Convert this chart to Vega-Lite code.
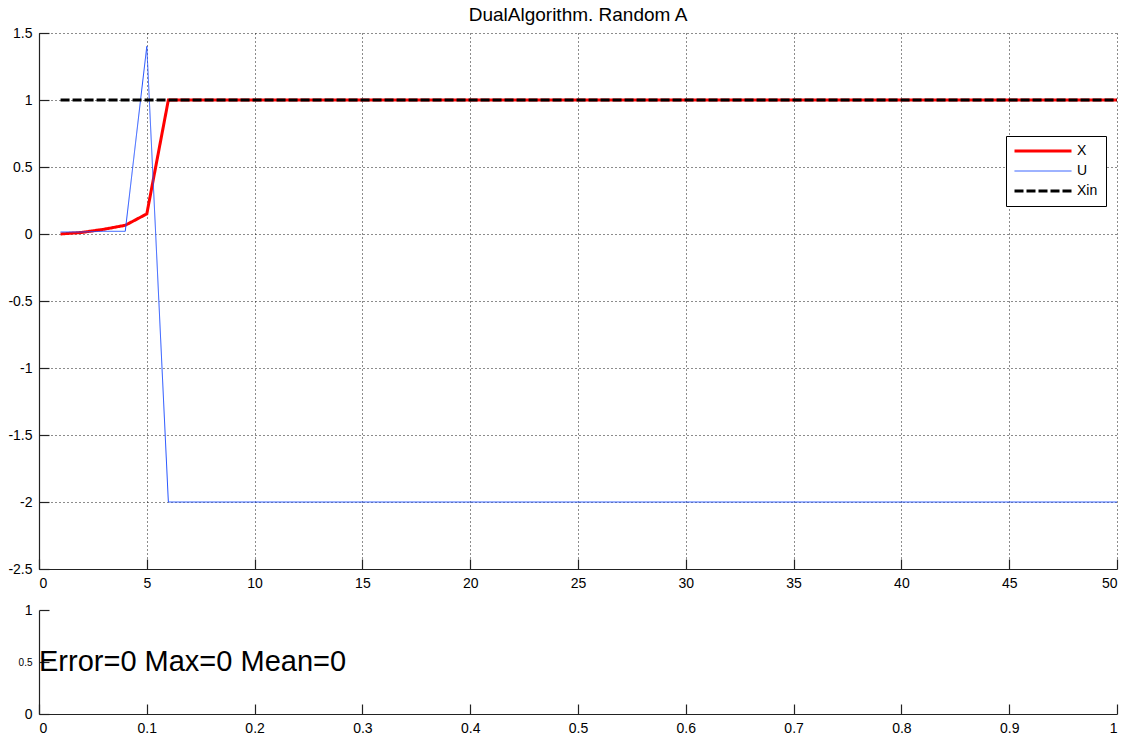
{
  "$schema": "https://vega.github.io/schema/vega-lite/v6.json",
  "background": "white",
  "padding": {"left": 5, "top": 6, "right": 4, "bottom": 2},
  "spacing": 12,
  "config": {
    "font": "Liberation Sans",
    "view": {"stroke": null},
    "axis": {
      "labelFont": "Liberation Sans",
      "labelFontSize": 14,
      "labelColor": "#000000",
      "domainColor": "#222222",
      "domainWidth": 1.2,
      "tickColor": "#222222",
      "tickWidth": 1.2,
      "tickSize": -10,
      "title": null,
      "gridColor": "#000000",
      "gridDash": [1, 3],
      "gridOpacity": 0.9,
      "gridWidth": 1
    },
    "axisX": {"labelPadding": 17, "minExtent": 22, "maxExtent": 22},
    "axisY": {"labelPadding": 17, "minExtent": 34, "maxExtent": 34}
  },
  "vconcat": [
    {
      "width": 1078,
      "height": 536,
      "title": {"text": "DualAlgorithm. Random A", "font": "Liberation Sans", "fontSize": 19, "fontWeight": "normal", "color": "#000000", "offset": 1},
      "data": {
        "values": [
          {"t": 1, "X": 0, "U": 0.015, "Xin": 1},
          {"t": 2, "X": 0.012, "U": 0.015, "Xin": 1},
          {"t": 3, "X": 0.035, "U": 0.02, "Xin": 1},
          {"t": 4, "X": 0.065, "U": 0.02, "Xin": 1},
          {"t": 5, "X": 0.15, "U": 1.4, "Xin": 1},
          {"t": 6, "X": 1, "U": -2, "Xin": 1},
          {"t": 7, "X": 1, "U": -2, "Xin": 1},
          {"t": 8, "X": 1, "U": -2, "Xin": 1},
          {"t": 9, "X": 1, "U": -2, "Xin": 1},
          {"t": 10, "X": 1, "U": -2, "Xin": 1},
          {"t": 11, "X": 1, "U": -2, "Xin": 1},
          {"t": 12, "X": 1, "U": -2, "Xin": 1},
          {"t": 13, "X": 1, "U": -2, "Xin": 1},
          {"t": 14, "X": 1, "U": -2, "Xin": 1},
          {"t": 15, "X": 1, "U": -2, "Xin": 1},
          {"t": 16, "X": 1, "U": -2, "Xin": 1},
          {"t": 17, "X": 1, "U": -2, "Xin": 1},
          {"t": 18, "X": 1, "U": -2, "Xin": 1},
          {"t": 19, "X": 1, "U": -2, "Xin": 1},
          {"t": 20, "X": 1, "U": -2, "Xin": 1},
          {"t": 21, "X": 1, "U": -2, "Xin": 1},
          {"t": 22, "X": 1, "U": -2, "Xin": 1},
          {"t": 23, "X": 1, "U": -2, "Xin": 1},
          {"t": 24, "X": 1, "U": -2, "Xin": 1},
          {"t": 25, "X": 1, "U": -2, "Xin": 1},
          {"t": 26, "X": 1, "U": -2, "Xin": 1},
          {"t": 27, "X": 1, "U": -2, "Xin": 1},
          {"t": 28, "X": 1, "U": -2, "Xin": 1},
          {"t": 29, "X": 1, "U": -2, "Xin": 1},
          {"t": 30, "X": 1, "U": -2, "Xin": 1},
          {"t": 31, "X": 1, "U": -2, "Xin": 1},
          {"t": 32, "X": 1, "U": -2, "Xin": 1},
          {"t": 33, "X": 1, "U": -2, "Xin": 1},
          {"t": 34, "X": 1, "U": -2, "Xin": 1},
          {"t": 35, "X": 1, "U": -2, "Xin": 1},
          {"t": 36, "X": 1, "U": -2, "Xin": 1},
          {"t": 37, "X": 1, "U": -2, "Xin": 1},
          {"t": 38, "X": 1, "U": -2, "Xin": 1},
          {"t": 39, "X": 1, "U": -2, "Xin": 1},
          {"t": 40, "X": 1, "U": -2, "Xin": 1},
          {"t": 41, "X": 1, "U": -2, "Xin": 1},
          {"t": 42, "X": 1, "U": -2, "Xin": 1},
          {"t": 43, "X": 1, "U": -2, "Xin": 1},
          {"t": 44, "X": 1, "U": -2, "Xin": 1},
          {"t": 45, "X": 1, "U": -2, "Xin": 1},
          {"t": 46, "X": 1, "U": -2, "Xin": 1},
          {"t": 47, "X": 1, "U": -2, "Xin": 1},
          {"t": 48, "X": 1, "U": -2, "Xin": 1},
          {"t": 49, "X": 1, "U": -2, "Xin": 1},
          {"t": 50, "X": 1, "U": -2, "Xin": 1}
        ]
      },
      "transform": [{"fold": ["X", "U", "Xin"], "as": ["series", "value"]}],
      "encoding": {
        "x": {
          "field": "t", "type": "quantitative",
          "scale": {"domain": [0, 50], "nice": false, "zero": false},
          "axis": {"values": [0, 5, 10, 15, 20, 25, 30, 35, 40, 45, 50], "grid": true, "labelExpr": "toString(datum.value)"}
        },
        "y": {
          "field": "value", "type": "quantitative",
          "scale": {"domain": [-2.5, 1.5], "nice": false, "zero": false},
          "axis": {"values": [-2.5, -2, -1.5, -1, -0.5, 0, 0.5, 1, 1.5], "grid": true, "labelExpr": "toString(datum.value)"}
        },
        "color": {
          "field": "series", "type": "nominal",
          "scale": {"domain": ["X", "U", "Xin"], "range": ["#ff0000", "#2050ff", "#000000"]},
          "legend": {
            "title": null, "orient": "none", "legendX": 967, "legendY": 103,
            "strokeColor": "#000000", "fillColor": "#ffffff", "padding": 8,
            "symbolType": "stroke", "symbolSize": 3249, "symbolOffset": 22,
            "labelFont": "Liberation Sans", "labelFontSize": 14, "labelColor": "#000000", "labelOffset": 27,
            "labelExpr": "datum.label + '    '",
            "rowPadding": 6,
            "encode": {"symbols": {"update": {"strokeWidth": {"signal": "datum.value === 'U' ? 1 : 3"}}}}
          }
        },
        "strokeDash": {
          "field": "series", "type": "nominal",
          "scale": {"domain": ["X", "U", "Xin"], "range": [[1, 0], [1, 0], [9, 3]]},
          "legend": {
            "title": null, "orient": "none", "legendX": 967, "legendY": 103,
            "strokeColor": "#000000", "fillColor": "#ffffff", "padding": 8,
            "symbolType": "stroke", "symbolSize": 3249, "symbolOffset": 22,
            "labelFont": "Liberation Sans", "labelFontSize": 14, "labelColor": "#000000", "labelOffset": 27,
            "labelExpr": "datum.label + '    '",
            "rowPadding": 6,
            "encode": {"symbols": {"update": {"strokeWidth": {"signal": "datum.value === 'U' ? 1 : 3"}}}}
          }
        }
      },
      "layer": [
        {"transform": [{"filter": "datum.series === 'X'"}], "mark": {"type": "line", "strokeWidth": 3}},
        {"transform": [{"filter": "datum.series === 'U'"}], "mark": {"type": "line", "strokeWidth": 1}},
        {"transform": [{"filter": "datum.series === 'Xin'"}], "mark": {"type": "line", "strokeWidth": 3}}
      ]
    },
    {
      "width": 1078,
      "height": 104,
      "data": {"values": [{"x": 0, "y": 0.5, "label": "Error=0 Max=0 Mean=0"}]},
      "mark": {"type": "text", "align": "left", "baseline": "middle", "font": "Liberation Sans", "fontSize": 29, "color": "#000000"},
      "encoding": {
        "x": {
          "field": "x", "type": "quantitative",
          "scale": {"domain": [0, 1], "nice": false, "zero": false},
          "axis": {"values": [0, 0.1, 0.2, 0.3, 0.4, 0.5, 0.6, 0.7, 0.8, 0.9, 1], "grid": false, "labelExpr": "toString(datum.value)"}
        },
        "y": {
          "field": "y", "type": "quantitative",
          "scale": {"domain": [0, 1], "nice": false, "zero": false},
          "axis": {"values": [0, 0.5, 1], "grid": false, "labelExpr": "toString(datum.value)", "labelFontSize": {"condition": {"test": "datum.value === 0.5", "value": 10}, "value": 14}}
        },
        "text": {"field": "label"}
      }
    }
  ]
}
